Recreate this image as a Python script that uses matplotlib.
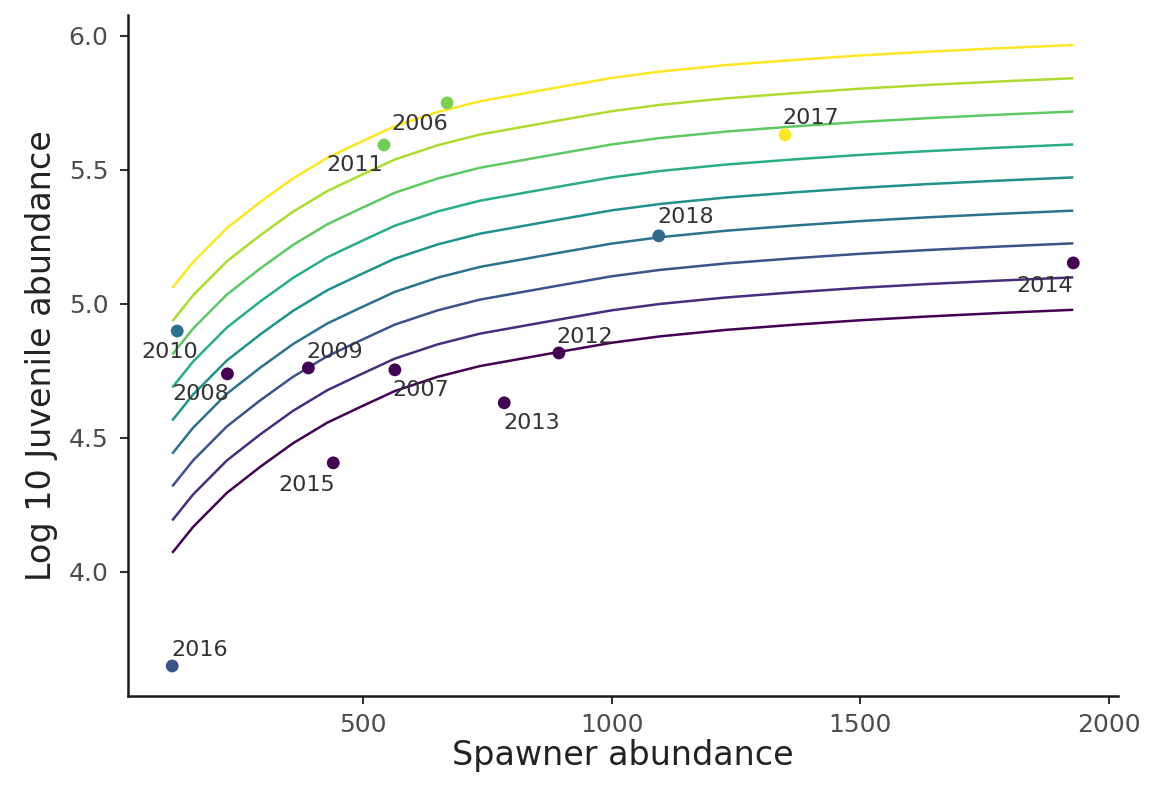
import numpy as np
import matplotlib
matplotlib.use("Agg")
import matplotlib.pyplot as plt

# Observed points
years = ["2006", "2007", "2008", "2009", "2010", "2011", "2012",
         "2013", "2014", "2015", "2016", "2017", "2018"]
spawners = [669, 564, 227, 390, 126, 542, 894, 784, 1929, 440, 116, 1349, 1095]
log_juv = [5.750, 4.754, 4.739, 4.761, 4.899, 5.593, 4.817,
           4.631, 5.153, 4.407, 3.649, 5.631, 5.254]
point_cols = ["#7ad151", "#440154", "#440154", "#440154", "#2c728e", "#6ece58",
              "#440154", "#440154", "#440154", "#440154", "#3b528b", "#fde725",
              "#31688e"]

# Fitted curve (lowest level), other levels are shifted copies
curve_s = [116, 158, 226, 293, 359, 428, 494, 564, 650, 735, 892, 1000,
           1098, 1230, 1365, 1500, 1635, 1780, 1929]
curve_base = [4.071, 4.168, 4.295, 4.392, 4.480, 4.557, 4.615, 4.675, 4.728,
              4.768, 4.820, 4.855, 4.879, 4.903, 4.922, 4.939, 4.953, 4.966, 4.978]
curve_shift = [0.0, 0.121, 0.248, 0.370, 0.494, 0.617, 0.740, 0.864, 0.988]

# label offsets in pixels (dx, dy) relative to each point
label_off = {"2006": (-27, -21), "2007": (26, -20), "2008": (-27, -20),
             "2009": (26, 16), "2010": (-7, -21), "2011": (-29, -20),
             "2012": (26, 16), "2013": (27, -20), "2014": (-29, -23),
             "2015": (-27, -22), "2016": (27, 16), "2017": (26, 17),
             "2018": (27, 19)}

plt.rcParams['font.family'] = ['DejaVu Sans']

fig = plt.figure(figsize=(11.52, 7.85), dpi=100)
ax = fig.add_axes([128/1152, 1-696/785, (1118-128)/1152, (696-15)/785])

line_cols = plt.cm.viridis(np.linspace(0, 1, len(curve_shift)))
for k, sh in enumerate(curve_shift):
    ax.plot(curve_s, np.array(curve_base) + sh, color=line_cols[k], lw=1.8,
            solid_capstyle='butt', solid_joinstyle='round', zorder=2)

ax.scatter(spawners, log_juv, c=point_cols, s=85, zorder=3, linewidths=0)

for yr, sx, sy in zip(years, spawners, log_juv):
    dx, dy = label_off[yr]
    ax.annotate(yr, (sx, sy), xytext=(dx, dy), textcoords='offset pixels',
                ha='center', va='center', fontsize=16, color='#333333', zorder=4)

ax.set_xlim(27, 2019)
ax.set_ylim(3.537, 6.078)
ax.set_xticks([500, 1000, 1500, 2000])
ax.set_yticks([4.0, 4.5, 5.0, 5.5, 6.0])
ax.set_yticklabels(["4.0", "4.5", "5.0", "5.5", "6.0"])
ax.tick_params(labelsize=18, labelcolor='#4d4d4d', color='#333333',
               length=6, width=1.5)
ax.tick_params(axis='y', pad=8)
ax.tick_params(axis='x', pad=6)
for side in ['top', 'right']:
    ax.spines[side].set_visible(False)
for side in ['left', 'bottom']:
    ax.spines[side].set_linewidth(1.8)
    ax.spines[side].set_color('#1a1a1a')

ax.set_xlabel("Spawner abundance", fontsize=24, color='#222222', labelpad=2)
ax.set_ylabel("Log 10 Juvenile abundance", fontsize=24, color='#222222', labelpad=8)

fig.savefig("out.png", dpi=100)
